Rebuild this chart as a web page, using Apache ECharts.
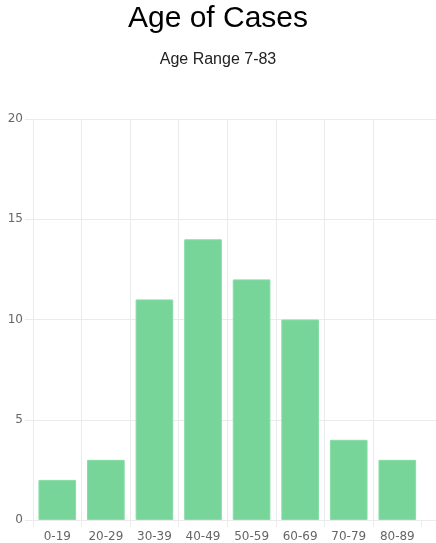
<!DOCTYPE html>
<html>
<head>
<meta charset="utf-8">
<script src="https://cdn.jsdelivr.net/npm/echarts@6/dist/echarts.min.js"></script>
<style>
html,body{margin:0;padding:0;background:#fff;}
#chart{width:436px;height:543px;}
</style>
</head>
<body>
<div id="chart"></div>
<script>
const categories = ['0-19','20-29','30-39','40-49','50-59','60-69','70-79','80-89'];
const cases = [2, 3, 11, 14, 12, 10, 4, 3];
const yMin = 0, yMax = 20, yStep = 5;
const titleText = 'Age of Cases';
const subtitleText = 'Age Range 7-83';

const chart = echarts.init(document.getElementById('chart'), null, {renderer:'canvas'});
const gridColor = '#ebebeb';
const labelFont = {color:'#666', fontSize:12, fontFamily:'DejaVu Sans'};
chart.setOption({
  animation:false,
  title:[
    {text:titleText, left:'center', top:-1, textStyle:{fontFamily:'Liberation Sans', fontSize:30, fontWeight:'normal', color:'#000'}},
    {text:subtitleText, left:'center', top:47, textStyle:{fontFamily:'Liberation Sans', fontSize:16, fontWeight:'normal', color:'#222'}}
  ],
  grid:[
    {left:33, right:14.4, top:119, bottom:23, containLabel:false},
    {left:33, right:0, top:119, bottom:23, containLabel:false},
    {left:33, right:14.4, top:119, bottom:23, containLabel:false}
  ],
  xAxis:[
    {type:'category', gridIndex:0, data:categories, boundaryGap:true,
     axisLine:{show:true, lineStyle:{color:gridColor}},
     axisTick:{show:true, length:7, lineStyle:{color:gridColor}},
     axisLabel:Object.assign({margin:11}, labelFont),
     splitLine:{show:false}},
    {type:'category', gridIndex:1, data:categories, show:false},
    {type:'value', gridIndex:2, min:0, max:categories.length, interval:1,
     axisLine:{show:false}, axisTick:{show:false}, axisLabel:{show:false},
     splitLine:{show:true, showMinLine:true, showMaxLine:false, lineStyle:{color:gridColor}}}
  ],
  yAxis:[
    {type:'value', gridIndex:0, min:yMin, max:yMax, interval:yStep,
     axisLine:{show:true, lineStyle:{color:gridColor}},
     axisTick:{show:true, length:8, lineStyle:{color:gridColor}},
     axisLabel:Object.assign({margin:10}, labelFont),
     splitLine:{show:false}},
    {type:'value', gridIndex:1, min:yMin, max:yMax, interval:yStep,
     axisLine:{show:false}, axisTick:{show:false}, axisLabel:{show:false},
     splitLine:{show:true, lineStyle:{color:gridColor}}},
    {type:'value', gridIndex:2, min:yMin, max:yMax, interval:yStep, show:false}
  ],
  series:[
    {type:'bar', xAxisIndex:0, yAxisIndex:0, data:cases, barWidth:'77.5%',
     itemStyle:{color:'#77d59a', borderColor:'#86dda6', borderWidth:1}, z:3}
  ]
});
</script>
</body>
</html>
